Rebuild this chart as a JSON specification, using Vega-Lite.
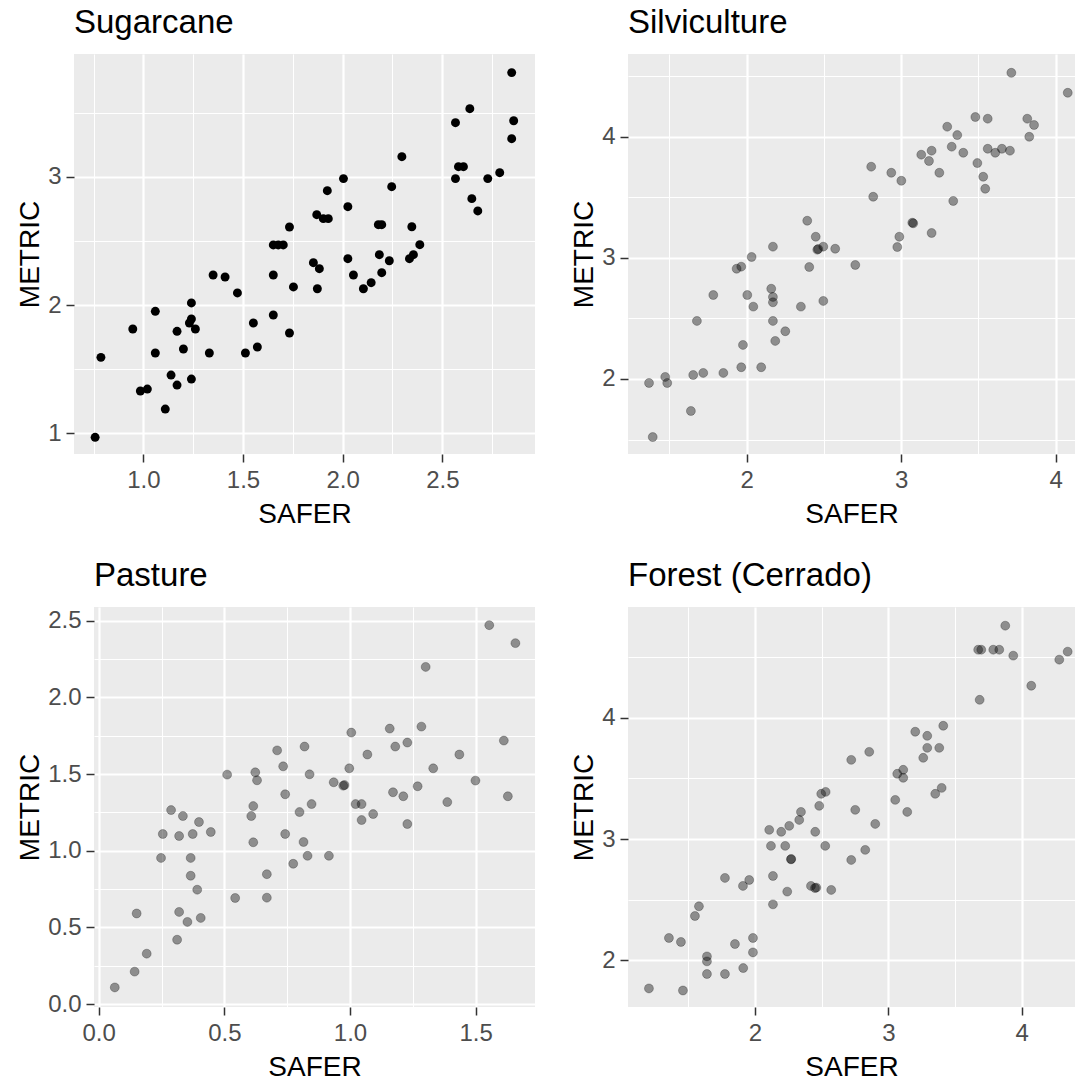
{
  "$schema": "https://vega.github.io/schema/vega-lite/v6.json",
  "padding": {"left": 9, "top": 7, "right": 0, "bottom": 0},
  "background": "white",
  "config": {
    "view": {"fill": "#EBEBEB", "stroke": null},
    "axis": {
      "gridColor": "white", "labelFont": "Liberation Sans", "labelFontSize": 24, "labelColor": "#4D4D4D",
      "titleFont": "Liberation Sans", "titleFontSize": 28, "titleFontWeight": "normal", "titleColor": "black",
      "tickColor": "#333333", "tickSize": 8, "tickWidth": 1.5, "domain": false, "labelPadding": 5, "titlePadding": 3
    },
    "axisX": {"labelPadding": 6, "titlePadding": 8},
    "title": {"anchor": "start", "frame": "group", "fontSize": 33, "font": "Liberation Sans", "fontWeight": "normal", "color": "black", "offset": 14}
  },
  "datasets": {
    "blank": [{"k": 0}],
    "sug": [
      {"x":0.758,"y":0.969},{"x":0.787,"y":1.592},{"x":0.947,"y":1.813},{"x":1.060,"y":1.951},{"x":1.060,"y":1.626},
      {"x":0.985,"y":1.330},{"x":1.020,"y":1.345},{"x":1.110,"y":1.189},{"x":1.139,"y":1.454},{"x":1.169,"y":1.376},
      {"x":1.169,"y":1.795},{"x":1.201,"y":1.657},{"x":1.241,"y":1.423},{"x":1.241,"y":2.016},{"x":1.241,"y":1.891},
      {"x":1.231,"y":1.860},{"x":1.261,"y":1.813},{"x":1.331,"y":1.626},{"x":1.350,"y":2.234},{"x":1.410,"y":2.218},
      {"x":1.472,"y":2.094},{"x":1.512,"y":1.626},{"x":1.552,"y":1.860},{"x":1.572,"y":1.673},{"x":1.652,"y":1.922},
      {"x":1.652,"y":2.234},{"x":1.733,"y":1.782},{"x":1.753,"y":2.141},{"x":1.733,"y":2.608},{"x":1.652,"y":2.468},
      {"x":1.677,"y":2.468},{"x":1.702,"y":2.468},{"x":2.848,"y":3.811},{"x":2.638,"y":3.530},{"x":2.566,"y":3.421},
      {"x":2.858,"y":3.436},{"x":2.848,"y":3.296},{"x":2.297,"y":3.156},{"x":2.004,"y":2.985},{"x":2.581,"y":3.078},
      {"x":2.606,"y":3.078},{"x":2.566,"y":2.985},{"x":2.728,"y":2.985},{"x":2.788,"y":3.031},{"x":2.648,"y":2.829},
      {"x":2.678,"y":2.733},{"x":1.923,"y":2.891},{"x":2.246,"y":2.922},{"x":2.026,"y":2.766},{"x":1.870,"y":2.704},
      {"x":1.903,"y":2.673},{"x":1.928,"y":2.673},{"x":2.179,"y":2.626},{"x":2.196,"y":2.626},{"x":2.347,"y":2.610},
      {"x":2.387,"y":2.470},{"x":2.355,"y":2.392},{"x":2.335,"y":2.361},{"x":2.184,"y":2.392},{"x":2.234,"y":2.345},
      {"x":2.026,"y":2.361},{"x":1.853,"y":2.330},{"x":1.883,"y":2.283},{"x":2.054,"y":2.234},{"x":2.196,"y":2.252},
      {"x":1.873,"y":2.127},{"x":2.104,"y":2.127},{"x":2.143,"y":2.174}
    ],
    "sil": [
      {"x":2.392,"y":3.306},{"x":2.447,"y":3.174},{"x":2.457,"y":3.067},{"x":2.463,"y":3.073},{"x":2.496,"y":3.092},
      {"x":2.573,"y":3.075},{"x":2.170,"y":3.092},{"x":2.032,"y":3.007},{"x":1.935,"y":2.910},{"x":1.965,"y":2.927},
      {"x":2.405,"y":2.924},{"x":2.159,"y":2.745},{"x":2.170,"y":2.677},{"x":2.170,"y":2.633},{"x":2.004,"y":2.693},
      {"x":1.784,"y":2.693},{"x":2.043,"y":2.597},{"x":2.351,"y":2.597},{"x":2.496,"y":2.644},{"x":1.678,"y":2.479},
      {"x":2.170,"y":2.479},{"x":2.250,"y":2.394},{"x":2.185,"y":2.314},{"x":1.976,"y":2.281},{"x":1.965,"y":2.097},
      {"x":2.094,"y":2.097},{"x":1.849,"y":2.050},{"x":1.719,"y":2.050},{"x":1.654,"y":2.033},{"x":1.473,"y":2.017},
      {"x":1.486,"y":1.967},{"x":1.368,"y":1.967},{"x":1.639,"y":1.736},{"x":1.392,"y":1.521},{"x":3.713,"y":4.527},
      {"x":4.078,"y":4.362},{"x":3.480,"y":4.162},{"x":3.560,"y":4.148},{"x":3.816,"y":4.148},{"x":3.860,"y":4.096},
      {"x":3.829,"y":3.999},{"x":3.298,"y":4.082},{"x":3.363,"y":4.013},{"x":3.327,"y":3.917},{"x":3.402,"y":3.867},
      {"x":3.130,"y":3.851},{"x":3.197,"y":3.884},{"x":3.180,"y":3.799},{"x":3.560,"y":3.900},{"x":3.609,"y":3.867},
      {"x":3.652,"y":3.900},{"x":3.704,"y":3.884},{"x":3.493,"y":3.782},{"x":3.531,"y":3.669},{"x":3.544,"y":3.570},
      {"x":2.806,"y":3.752},{"x":2.936,"y":3.702},{"x":3.001,"y":3.636},{"x":3.247,"y":3.702},{"x":2.819,"y":3.504},
      {"x":3.337,"y":3.469},{"x":3.078,"y":3.285},{"x":3.072,"y":3.290},{"x":3.197,"y":3.205},{"x":2.988,"y":3.174},
      {"x":2.975,"y":3.089},{"x":2.703,"y":2.941}
    ],
    "pas": [
      {"x":0.064,"y":0.109},{"x":0.143,"y":0.212},{"x":0.191,"y":0.329},{"x":0.151,"y":0.591},{"x":0.312,"y":0.420},
      {"x":0.320,"y":0.601},{"x":0.353,"y":0.536},{"x":0.406,"y":0.562},{"x":0.392,"y":0.746},{"x":0.366,"y":0.837},
      {"x":0.366,"y":0.953},{"x":0.248,"y":0.953},{"x":0.255,"y":1.109},{"x":0.320,"y":1.096},{"x":0.374,"y":1.109},
      {"x":0.446,"y":1.122},{"x":0.399,"y":1.187},{"x":0.335,"y":1.226},{"x":0.288,"y":1.265},{"x":0.543,"y":0.692},
      {"x":0.669,"y":0.694},{"x":0.669,"y":0.847},{"x":0.511,"y":1.496},{"x":0.615,"y":1.055},{"x":0.607,"y":1.226},
      {"x":0.615,"y":1.291},{"x":0.623,"y":1.511},{"x":0.630,"y":1.459},{"x":0.710,"y":1.654},{"x":0.734,"y":1.550},
      {"x":0.742,"y":1.368},{"x":0.742,"y":1.109},{"x":0.774,"y":0.915},{"x":0.815,"y":1.057},{"x":0.831,"y":0.967},
      {"x":0.799,"y":1.252},{"x":0.819,"y":1.679},{"x":0.839,"y":1.498},{"x":0.847,"y":1.304},{"x":1.554,"y":2.470},
      {"x":1.658,"y":2.353},{"x":1.301,"y":2.198},{"x":1.005,"y":1.770},{"x":1.158,"y":1.796},{"x":1.284,"y":1.809},
      {"x":1.612,"y":1.718},{"x":1.180,"y":1.679},{"x":1.228,"y":1.705},{"x":1.069,"y":1.627},{"x":1.435,"y":1.627},
      {"x":0.997,"y":1.537},{"x":1.331,"y":1.537},{"x":0.935,"y":1.446},{"x":0.973,"y":1.424},{"x":0.978,"y":1.428},
      {"x":1.499,"y":1.457},{"x":1.269,"y":1.420},{"x":1.171,"y":1.381},{"x":1.212,"y":1.355},{"x":1.628,"y":1.355},
      {"x":1.387,"y":1.317},{"x":1.022,"y":1.304},{"x":1.046,"y":1.304},{"x":1.092,"y":1.239},{"x":1.046,"y":1.200},
      {"x":1.228,"y":1.174},{"x":0.916,"y":0.967}
    ],
    "for": [
      {"x":1.205,"y":1.769},{"x":1.460,"y":1.752},{"x":1.640,"y":1.888},{"x":1.775,"y":1.888},{"x":1.912,"y":1.937},
      {"x":1.640,"y":1.992},{"x":1.640,"y":2.033},{"x":1.850,"y":2.135},{"x":1.985,"y":2.066},{"x":1.985,"y":2.185},
      {"x":1.355,"y":2.185},{"x":1.445,"y":2.152},{"x":1.550,"y":2.366},{"x":1.580,"y":2.446},{"x":1.775,"y":2.680},
      {"x":1.910,"y":2.614},{"x":1.957,"y":2.663},{"x":2.135,"y":2.462},{"x":2.135,"y":2.696},{"x":2.242,"y":2.567},
      {"x":2.270,"y":2.833},{"x":2.272,"y":2.836},{"x":2.420,"y":2.614},{"x":2.450,"y":2.597},{"x":2.460,"y":2.600},
      {"x":2.572,"y":2.581},{"x":2.120,"y":2.944},{"x":2.227,"y":2.944},{"x":2.527,"y":2.944},{"x":2.107,"y":3.076},
      {"x":2.197,"y":3.060},{"x":2.257,"y":3.109},{"x":2.332,"y":3.158},{"x":2.345,"y":3.224},{"x":2.452,"y":3.060},
      {"x":2.482,"y":3.274},{"x":2.497,"y":3.373},{"x":2.530,"y":3.389},{"x":3.877,"y":4.759},{"x":3.674,"y":4.561},
      {"x":3.697,"y":4.561},{"x":3.787,"y":4.561},{"x":3.832,"y":4.561},{"x":3.937,"y":4.512},{"x":4.345,"y":4.545},
      {"x":4.282,"y":4.479},{"x":4.072,"y":4.264},{"x":3.685,"y":4.148},{"x":3.412,"y":3.934},{"x":3.202,"y":3.885},
      {"x":3.292,"y":3.851},{"x":3.292,"y":3.752},{"x":3.382,"y":3.752},{"x":3.262,"y":3.670},{"x":2.722,"y":3.653},
      {"x":2.857,"y":3.719},{"x":3.067,"y":3.538},{"x":3.112,"y":3.571},{"x":3.112,"y":3.505},{"x":3.400,"y":3.422},
      {"x":3.352,"y":3.373},{"x":3.052,"y":3.323},{"x":3.142,"y":3.224},{"x":2.752,"y":3.241},{"x":2.902,"y":3.125},
      {"x":2.827,"y":2.911},{"x":2.722,"y":2.828}
    ]
  },
  "spacing": 32,
  "vconcat": [
    {
      "spacing": 0,
      "hconcat": [
        {"width": 1, "height": 1, "data": {"name": "blank"}, "mark": {"type": "point", "opacity": 0}, "view": {"fill": null, "stroke": null}},
        {
          "spacing": 35,
          "hconcat": [
            {
              "width": 461, "height": 400,
              "title": {"text": "Sugarcane"},
              "data": {"name": "sug"},
              "layer": [
                {"mark": {"type": "point", "opacity": 0},
                 "encoding": {
                   "x": {"field": "x", "type": "quantitative", "scale": {"domain": [0.652, 2.965], "nice": false, "zero": false},
                         "axis": {"orient": "top", "values": [0.75, 1.25, 1.75, 2.25, 2.75], "grid": true, "gridWidth": 1, "labels": false, "ticks": false, "domain": false, "title": null}},
                   "y": {"field": "y", "type": "quantitative", "scale": {"domain": [0.839, 3.956], "nice": false, "zero": false},
                         "axis": {"orient": "right", "values": [1.5, 2.5, 3.5], "grid": true, "gridWidth": 1, "labels": false, "ticks": false, "domain": false, "title": null}}}},
                {"mark": {"type": "circle", "size": 80, "color": "black", "opacity": 1},
                 "encoding": {
                   "x": {"field": "x", "type": "quantitative", "scale": {"domain": [0.652, 2.965], "nice": false, "zero": false},
                         "axis": {"orient": "bottom", "values": [1, 1.5, 2, 2.5], "format": ".1f", "title": "SAFER", "grid": true, "gridWidth": 2.2}},
                   "y": {"field": "y", "type": "quantitative", "scale": {"domain": [0.839, 3.956], "nice": false, "zero": false},
                         "axis": {"orient": "left", "values": [1, 2, 3], "format": "d", "title": "METRIC", "grid": true, "gridWidth": 2.2, "minExtent": 10}}}}
              ],
              "resolve": {"axis": {"x": "independent", "y": "independent"}}
            },
            {
              "width": 447, "height": 400,
              "title": {"text": "Silviculture"},
              "data": {"name": "sil"},
              "layer": [
                {"mark": {"type": "point", "opacity": 0},
                 "encoding": {
                   "x": {"field": "x", "type": "quantitative", "scale": {"domain": [1.232, 4.125], "nice": false, "zero": false},
                         "axis": {"orient": "top", "values": [1.5, 2.5, 3.5], "grid": true, "gridWidth": 1, "labels": false, "ticks": false, "domain": false, "title": null}},
                   "y": {"field": "y", "type": "quantitative", "scale": {"domain": [1.381, 4.682], "nice": false, "zero": false},
                         "axis": {"orient": "right", "values": [1.5, 2.5, 3.5, 4.5], "grid": true, "gridWidth": 1, "labels": false, "ticks": false, "domain": false, "title": null}}}},
                {"mark": {"type": "circle", "size": 80, "fill": "black", "fillOpacity": 0.4, "stroke": "black", "strokeOpacity": 0.25, "strokeWidth": 1},
                 "encoding": {
                   "x": {"field": "x", "type": "quantitative", "scale": {"domain": [1.232, 4.125], "nice": false, "zero": false},
                         "axis": {"orient": "bottom", "values": [2, 3, 4], "format": "d", "title": "SAFER", "grid": true, "gridWidth": 2.2}},
                   "y": {"field": "y", "type": "quantitative", "scale": {"domain": [1.381, 4.682], "nice": false, "zero": false},
                         "axis": {"orient": "left", "values": [2, 3, 4], "format": "d", "title": "METRIC", "grid": true, "gridWidth": 2.2, "minExtent": 10}}}}
              ],
              "resolve": {"axis": {"x": "independent", "y": "independent"}}
            }
          ]
        }
      ]
    },
    {
      "spacing": 0,
      "hconcat": [
        {"width": 1, "height": 1, "data": {"name": "blank"}, "mark": {"type": "point", "opacity": 0}, "view": {"fill": null, "stroke": null}},
        {
          "spacing": 35,
          "hconcat": [
            {
              "width": 441, "height": 400,
              "title": {"text": "Pasture"},
              "data": {"name": "pas"},
              "layer": [
                {"mark": {"type": "point", "opacity": 0},
                 "encoding": {
                   "x": {"field": "x", "type": "quantitative", "scale": {"domain": [-0.0187, 1.736], "nice": false, "zero": false},
                         "axis": {"orient": "top", "values": [0.25, 0.75, 1.25], "grid": true, "gridWidth": 1, "labels": false, "ticks": false, "domain": false, "title": null}},
                   "y": {"field": "y", "type": "quantitative", "scale": {"domain": [-0.0185, 2.5885], "nice": false, "zero": false},
                         "axis": {"orient": "right", "values": [0.25, 0.75, 1.25, 1.75, 2.25], "grid": true, "gridWidth": 1, "labels": false, "ticks": false, "domain": false, "title": null}}}},
                {"mark": {"type": "circle", "size": 80, "fill": "black", "fillOpacity": 0.4, "stroke": "black", "strokeOpacity": 0.25, "strokeWidth": 1},
                 "encoding": {
                   "x": {"field": "x", "type": "quantitative", "scale": {"domain": [-0.0187, 1.736], "nice": false, "zero": false},
                         "axis": {"orient": "bottom", "values": [0, 0.5, 1, 1.5], "format": ".1f", "title": "SAFER", "grid": true, "gridWidth": 2.2}},
                   "y": {"field": "y", "type": "quantitative", "scale": {"domain": [-0.0185, 2.5885], "nice": false, "zero": false},
                         "axis": {"orient": "left", "values": [0, 0.5, 1, 1.5, 2, 2.5], "format": ".1f", "title": "METRIC", "grid": true, "gridWidth": 2.2, "minExtent": 10}}}}
              ],
              "resolve": {"axis": {"x": "independent", "y": "independent"}}
            },
            {
              "width": 447, "height": 400,
              "title": {"text": "Forest (Cerrado)"},
              "data": {"name": "for"},
              "layer": [
                {"mark": {"type": "point", "opacity": 0},
                 "encoding": {
                   "x": {"field": "x", "type": "quantitative", "scale": {"domain": [1.048, 4.40], "nice": false, "zero": false},
                         "axis": {"orient": "top", "values": [1.5, 2.5, 3.5], "grid": true, "gridWidth": 1, "labels": false, "ticks": false, "domain": false, "title": null}},
                   "y": {"field": "y", "type": "quantitative", "scale": {"domain": [1.616, 4.913], "nice": false, "zero": false},
                         "axis": {"orient": "right", "values": [2.5, 3.5, 4.5], "grid": true, "gridWidth": 1, "labels": false, "ticks": false, "domain": false, "title": null}}}},
                {"mark": {"type": "circle", "size": 80, "fill": "black", "fillOpacity": 0.4, "stroke": "black", "strokeOpacity": 0.25, "strokeWidth": 1},
                 "encoding": {
                   "x": {"field": "x", "type": "quantitative", "scale": {"domain": [1.048, 4.40], "nice": false, "zero": false},
                         "axis": {"orient": "bottom", "values": [2, 3, 4], "format": "d", "title": "SAFER", "grid": true, "gridWidth": 2.2}},
                   "y": {"field": "y", "type": "quantitative", "scale": {"domain": [1.616, 4.913], "nice": false, "zero": false},
                         "axis": {"orient": "left", "values": [2, 3, 4], "format": "d", "title": "METRIC", "grid": true, "gridWidth": 2.2, "minExtent": 10}}}}
              ],
              "resolve": {"axis": {"x": "independent", "y": "independent"}}
            }
          ]
        }
      ]
    }
  ]
}
